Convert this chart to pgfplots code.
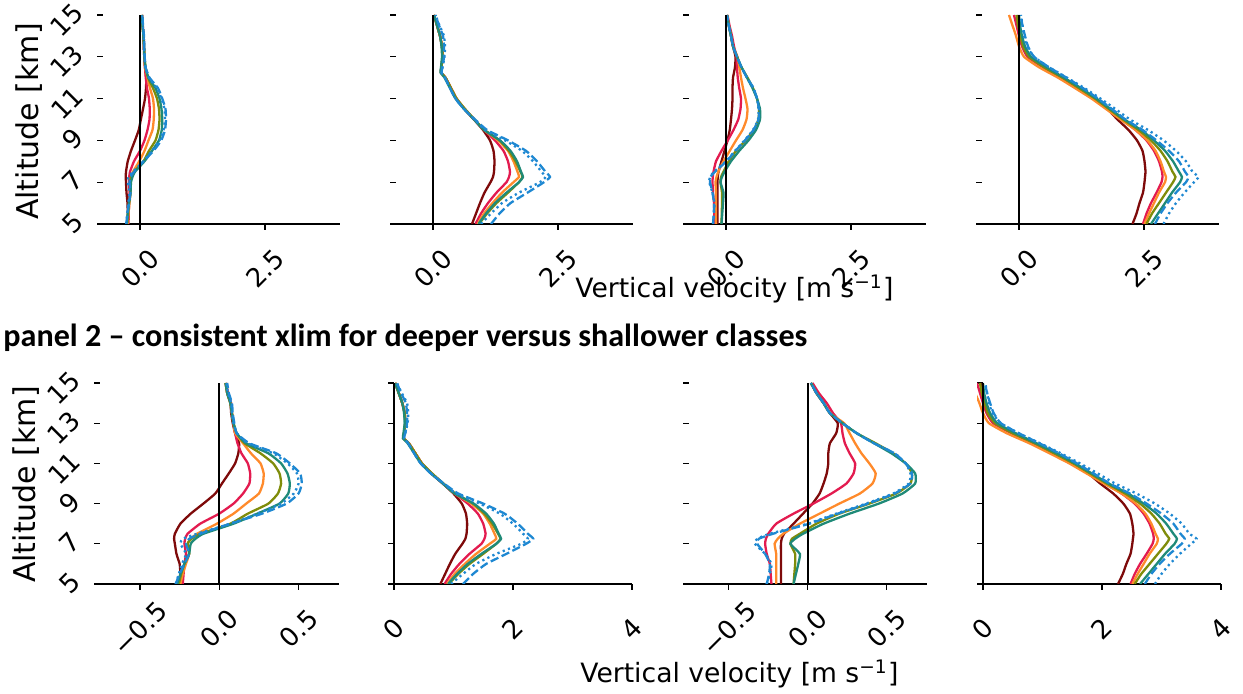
\documentclass[border=0pt]{standalone}
\usepackage{fontspec}
\setmainfont{DejaVu Sans}
\newfontfamily\carlito{Carlito}
\usepackage{graphicx}
\usepackage{pgfplots}
\pgfplotsset{compat=1.18}
\usepackage{pgfplotstable}

\definecolor{cdr}{HTML}{7E0A0A}
\definecolor{ccr}{HTML}{E31B4F}
\definecolor{cor}{HTML}{FF8A2B}
\definecolor{col}{HTML}{7F8C0A}
\definecolor{cte}{HTML}{1F8A78}
\definecolor{cbl}{HTML}{1E88D2}

% columns: altitude, then the seven classes
\pgfplotstableread{
z    dr     cr     or     ol     te     da     do
5    -0.245 -0.23  -0.245 -0.255 -0.265 -0.275 -0.275
5.5  -0.245 -0.225 -0.23  -0.24  -0.245 -0.25  -0.255
6    -0.25  -0.22  -0.21  -0.22  -0.22  -0.22  -0.235
6.5  -0.27  -0.21  -0.19  -0.19  -0.19  -0.19  -0.21
7    -0.28  -0.22  -0.20  -0.20  -0.18  -0.21  -0.245
7.25 -0.285 -0.215 -0.18  -0.175 -0.15  -0.19  -0.23
7.5  -0.28  -0.20  -0.14  -0.12  -0.10  -0.12  -0.14
8    -0.245 -0.12  -0.015 0.07   0.09   0.07   0.07
8.5  -0.18  0.0    0.09   0.18   0.24   0.27   0.24
9    -0.10  0.09   0.17   0.31   0.38   0.425  0.39
9.5  -0.025 0.15   0.25   0.37   0.435  0.50   0.47
10   0.017  0.19   0.275  0.39   0.445  0.52   0.50
10.5 0.06   0.195  0.28   0.38   0.43   0.51   0.49
11   0.10   0.18   0.26   0.34   0.39   0.445  0.43
11.5 0.12   0.14   0.20   0.26   0.31   0.36   0.34
12   0.125  0.115  0.15   0.16   0.17   0.19   0.18
12.5 0.10   0.10   0.10   0.11   0.11   0.11   0.11
13   0.085  0.09   0.09   0.09   0.09   0.095  0.09
13.5 0.075  0.08   0.08   0.08   0.08   0.085  0.08
14   0.07   0.075  0.07   0.07   0.07   0.08   0.075
14.5 0.05   0.055  0.05   0.05   0.05   0.06   0.055
15   0.04   0.045  0.04   0.04   0.04   0.05   0.045
}\tabA

\pgfplotstableread{
z     dr   cr   or   ol   te   da   do
5     0.78 0.85 0.89 0.92 0.91 1.16 0.96
5.5   0.86 0.96 1.02 1.08 1.06 1.33 1.16
6     0.94 1.10 1.19 1.27 1.24 1.55 1.38
6.5   1.03 1.27 1.38 1.50 1.47 1.89 1.72
7     1.15 1.47 1.61 1.72 1.72 2.22 2.14
7.25  1.20 1.52 1.72 1.79 1.80 2.34 2.25
7.5   1.22 1.54 1.69 1.75 1.76 2.25 2.17
8     1.23 1.50 1.61 1.65 1.68 2.08 2.00
8.5   1.21 1.41 1.50 1.52 1.55 1.86 1.78
9     1.14 1.24 1.30 1.33 1.34 1.50 1.44
9.5   1.00 1.02 1.02 1.03 1.02 1.08 1.05
10    0.82 0.82 0.83 0.83 0.82 0.84 0.83
10.5  0.63 0.63 0.64 0.64 0.62 0.62 0.62
11    0.47 0.47 0.47 0.47 0.45 0.45 0.45
11.5  0.36 0.36 0.36 0.36 0.34 0.34 0.34
12    0.25 0.25 0.25 0.25 0.23 0.24 0.24
12.25 0.16 0.16 0.16 0.16 0.15 0.17 0.17
12.5  0.17 0.17 0.17 0.17 0.16 0.19 0.19
13    0.19 0.19 0.19 0.19 0.18 0.22 0.23
13.5  0.18 0.18 0.18 0.18 0.17 0.22 0.24
14    0.14 0.14 0.14 0.14 0.14 0.20 0.22
14.5  0.08 0.08 0.08 0.08 0.08 0.12 0.13
15    0.02 0.02 0.02 0.02 0.02 0.05 0.05
}\tabB

\pgfplotstableread{
z    dr     cr     or     ol     te     da     do
5    -0.17  -0.23  -0.20  -0.09  -0.09  -0.26  -0.26
5.5  -0.17  -0.235 -0.20  -0.085 -0.075 -0.245 -0.24
6    -0.17  -0.24  -0.20  -0.08  -0.06  -0.24  -0.23
6.5  -0.17  -0.26  -0.20  -0.08  -0.05  -0.27  -0.27
7    -0.17  -0.27  -0.21  -0.11  -0.11  -0.32  -0.335
7.25 -0.165 -0.265 -0.19  -0.10  -0.08  -0.31  -0.32
7.5  -0.15  -0.25  -0.155 -0.05  -0.03  -0.22  -0.24
8    -0.09  -0.20  -0.05  0.055  0.10   0.01   0.0
8.5  -0.03  -0.09  0.075  0.20   0.265  0.19   0.18
9    0.03   0.035  0.20   0.39   0.45   0.38   0.37
9.5  0.075  0.15   0.33   0.56   0.60   0.55   0.54
10   0.10   0.245  0.41   0.65   0.68   0.65   0.64
10.5 0.12   0.29   0.43   0.66   0.68   0.66   0.65
11   0.13   0.30   0.39   0.62   0.62   0.62   0.62
11.5 0.13   0.265  0.34   0.54   0.53   0.55   0.55
12   0.14   0.235  0.30   0.43   0.42   0.42   0.42
12.5 0.18   0.22   0.265  0.31   0.31   0.31   0.31
13   0.19   0.21   0.23   0.22   0.22   0.22   0.22
13.5 0.14   0.16   0.14   0.14   0.14   0.14   0.14
14   0.10   0.12   0.10   0.10   0.10   0.10   0.10
14.5 0.055  0.07   0.055  0.055  0.055  0.055  0.055
15   0.02   0.03   0.02   0.02   0.02   0.02   0.02
}\tabC

\pgfplotstableread{
z    dr    cr    or    ol    te    da    do
5    2.27  2.48  2.51  2.55  2.64  2.72  2.89
5.5  2.35  2.55  2.60  2.66  2.78  2.83  3.00
6    2.41  2.64  2.70  2.80  2.92  2.97  3.14
6.5  2.48  2.75  2.80  2.94  3.06  3.14  3.31
7    2.51  2.85  2.92  3.08  3.22  3.34  3.50
7.25 2.52  2.87  2.94  3.13  3.26  3.39  3.59
7.5  2.53  2.86  2.90  3.07  3.20  3.32  3.47
8    2.51  2.80  2.83  2.97  3.08  3.20  3.34
8.5  2.47  2.70  2.73  2.83  2.92  3.00  3.14
9    2.36  2.55  2.57  2.64  2.70  2.75  2.89
9.5  2.19  2.33  2.33  2.39  2.44  2.47  2.58
10   1.97  2.05  2.03  2.08  2.11  2.13  2.22
10.5 1.77  1.78  1.74  1.80  1.83  1.86  1.93
11   1.52  1.50  1.45  1.52  1.55  1.58  1.63
11.5 1.20  1.18  1.12  1.20  1.24  1.28  1.31
12   0.88  0.85  0.78  0.87  0.90  0.95  0.96
12.5 0.52  0.48  0.40  0.50  0.55  0.60  0.60
13   0.20  0.17  0.10  0.20  0.24  0.30  0.30
13.5 0.08  0.06  0.0   0.08  0.12  0.18  0.16
14   0.02  0.0   -0.06 0.03  0.06  0.12  0.10
14.5 -0.01 -0.05 -0.13 -0.02 0.02  0.07  0.07
15   -0.03 -0.10 -0.20 -0.05 0.0   0.03  0.04
}\tabD

\newcommand{\profiles}[1]{%
  \addplot[cdr] table[x=dr,y=z]{#1};
  \addplot[ccr] table[x=cr,y=z]{#1};
  \addplot[cor] table[x=or,y=z]{#1};
  \addplot[col] table[x=ol,y=z]{#1};
  \addplot[cte] table[x=te,y=z]{#1};
  \addplot[cbl, dash pattern=on 1.1pt off 1.7pt] table[x=do,y=z]{#1};
  \addplot[cbl, dash pattern=on 4.2pt off 1.8pt] table[x=da,y=z]{#1};
  \addplot[black, line width=0.8pt, sharp plot] coordinates {(0,5) (0,15)};
}

\pgfplotsset{
  prof/.style={
    scale only axis, width=121.5pt,
    ymin=5, ymax=15, ytick={5,7,9,11,13,15},
    axis x line*=bottom, axis y line*=left,
    x axis line style={-, line width=0.65pt},
    y axis line style={draw=none},
    xtick align=outside, ytick align=inside,
    major tick length=2.8pt,
    tick style={black, line width=0.6pt},
    tick label style={font=\fontsize{13}{15}\selectfont},
    xticklabel style={anchor=center, yshift=-19.5pt, rotate=45},
    yticklabel style={anchor=south east, inner sep=0pt, xshift=-5.5pt, rotate=45},
    yticklabels={},
    every axis plot/.append style={line width=1.15pt, mark=none, smooth, tension=0.3},
  },
  toprow/.style={prof, height=104.5pt, xmin=-0.86, xmax=4.0,
    xtick={0,2.5}, xticklabels={0.0,2.5}},
  narrow/.style={prof, height=100.5pt, xmin=-0.79, xmax=0.755,
    xtick={-0.5,0,0.5}, xticklabels={−0.5,0.0,0.5}},
  wide/.style={prof, height=100.5pt, xmin=-0.1, xmax=4,
    xtick={0,2,4}, xticklabels={0,2,4}},
}

\begin{document}
\begin{tikzpicture}
\useasboundingbox (0,0) rectangle (621.5pt,347pt);

% top row
\begin{axis}[toprow, at={(48.5pt,235pt)}, anchor=south west,
  yticklabels={5,7,9,11,13,15}]
\profiles{\tabA}
\end{axis}
\begin{axis}[toprow, at={(195pt,235pt)}, anchor=south west]
\profiles{\tabB}
\end{axis}
\begin{axis}[toprow, at={(341.5pt,235pt)}, anchor=south west]
\profiles{\tabC}
\end{axis}
\begin{axis}[toprow, at={(488pt,235pt)}, anchor=south west]
\profiles{\tabD}
\end{axis}

% bottom row
\begin{axis}[narrow, width=122.5pt, at={(47pt,55pt)}, anchor=south west,
  yticklabels={5,7,9,11,13,15}]
\profiles{\tabA}
\end{axis}
\begin{axis}[wide, width=122pt, at={(194pt,55pt)}, anchor=south west]
\profiles{\tabB}
\end{axis}
\begin{axis}[narrow, width=122pt, at={(341.5pt,55pt)}, anchor=south west]
\profiles{\tabC}
\end{axis}
\begin{axis}[wide, width=122pt, at={(488.5pt,55pt)}, anchor=south west]
\profiles{\tabD}
\end{axis}

\node[rotate=90, anchor=base, inner sep=0pt, font=\fontsize{15}{18}\selectfont]
  at (19pt,286.25pt) {Altitude [km]};
\node[rotate=90, anchor=base, inner sep=0pt, font=\fontsize{15}{18}\selectfont]
  at (17.5pt,104.75pt) {Altitude [km]};
\node[anchor=base west, inner sep=0pt] at (287.5pt,198pt)
  {\resizebox{159pt}{!}{Vertical velocity [m s\textsuperscript{−1}]}};
\node[anchor=base west, inner sep=0pt] at (290pt,5.5pt)
  {\resizebox{159pt}{!}{Vertical velocity [m s\textsuperscript{−1}]}};
\node[anchor=base west, inner sep=0pt] at (1.5pt,173.5pt)
  {\resizebox{402pt}{!}{\carlito\bfseries panel 2 – consistent xlim for deeper versus shallower classes}};
\end{tikzpicture}
\end{document}
